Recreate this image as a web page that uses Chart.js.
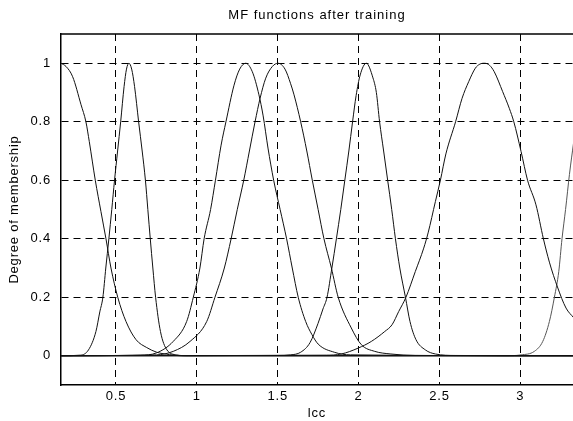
<!DOCTYPE html>
<html>
<head>
<meta charset="utf-8">
<script src="https://cdn.jsdelivr.net/npm/chart.js@4"></script>
<style>
  body { margin: 0; background: #fff; }
  canvas { display: block; }
</style>
</head>
<body>
<canvas id="mfChart" width="573" height="421"></canvas>
<script>
// MF curves (x = lcc, y = degree of membership)
var mf1X = [0.16, 0.191, 0.232, 0.284, 0.314, 0.335, 0.372, 0.407, 0.438, 0.469, 0.511, 0.562, 0.624, 0.69, 0.752, 0.83, 0.9, 3.33]
var mf1Y = [1.0, 0.989, 0.954, 0.858, 0.8, 0.732, 0.6, 0.493, 0.4, 0.3, 0.2, 0.117, 0.055, 0.028, 0.012, 0.004, 0, 0]

var mf2X = [0.16, 0.28, 0.33, 0.376, 0.4, 0.419, 0.437, 0.456, 0.474, 0.491, 0.51, 0.529, 0.55, 0.565, 0.58, 0.597, 0.615, 0.64, 0.662, 0.682, 0.697, 0.712, 0.728, 0.745, 0.775, 0.815, 0.875, 0.95, 3.33]
var mf2Y = [0, 0.002, 0.02, 0.083, 0.15, 0.2, 0.3, 0.4, 0.5, 0.6, 0.7, 0.8, 0.92, 0.98, 1.0, 0.98, 0.92, 0.8, 0.7, 0.6, 0.5, 0.4, 0.3, 0.2, 0.083, 0.02, 0.003, 0, 0]

var mf3X = [0.16, 0.65, 0.752, 0.854, 0.937, 0.978, 1.019, 1.045, 1.085, 1.115, 1.15, 1.18, 1.23, 1.265, 1.302, 1.343, 1.384, 1.41, 1.44, 1.475, 1.515, 1.555, 1.59, 1.627, 1.673, 1.712, 1.75, 1.85, 1.95, 3.33]
var mf3Y = [0, 0.002, 0.01, 0.049, 0.117, 0.2, 0.3, 0.4, 0.5, 0.6, 0.72, 0.8, 0.925, 0.98, 1.0, 0.971, 0.892, 0.82, 0.71, 0.6, 0.5, 0.4, 0.3, 0.2, 0.117, 0.072, 0.04, 0.012, 0.003, 0]

var mf4X = [0.16, 0.75, 0.854, 0.958, 1.061, 1.112, 1.17, 1.212, 1.25, 1.29, 1.325, 1.36, 1.391, 1.426, 1.467, 1.502, 1.545, 1.58, 1.601, 1.642, 1.68, 1.714, 1.75, 1.786, 1.832, 1.874, 1.955, 2.017, 2.1, 2.2, 2.35, 3.33]
var mf4Y = [0, 0.003, 0.015, 0.049, 0.117, 0.2, 0.3, 0.4, 0.5, 0.6, 0.7, 0.8, 0.88, 0.949, 0.989, 1.0, 0.98, 0.93, 0.892, 0.8, 0.7, 0.6, 0.5, 0.4, 0.3, 0.2, 0.095, 0.038, 0.015, 0.006, 0.001, 0]

var mf5X = [0.16, 1.5, 1.58, 1.642, 1.7, 1.749, 1.78, 1.805, 1.835, 1.863, 1.89, 1.915, 1.94, 1.963, 1.985, 2.01, 2.048, 2.089, 2.11, 2.13, 2.155, 2.18, 2.205, 2.228, 2.255, 2.29, 2.318, 2.355, 2.413, 2.475, 2.6, 3.33]
var mf5Y = [0, 0.001, 0.003, 0.012, 0.045, 0.11, 0.16, 0.2, 0.3, 0.4, 0.5, 0.6, 0.7, 0.8, 0.89, 0.96, 1.0, 0.95, 0.9, 0.8, 0.7, 0.6, 0.5, 0.4, 0.3, 0.2, 0.117, 0.055, 0.02, 0.006, 0.001, 0]

var mf6X = [0.16, 1.8, 1.893, 1.997, 2.079, 2.162, 2.207, 2.248, 2.293, 2.351, 2.403, 2.43, 2.475, 2.506, 2.54, 2.6, 2.64, 2.681, 2.722, 2.75, 2.78, 2.81, 2.839, 2.891, 2.932, 2.96, 3.005, 3.045, 3.097, 3.143, 3.18, 3.23, 3.283, 3.33]
var mf6Y = [0, 0.002, 0.006, 0.026, 0.049, 0.083, 0.106, 0.151, 0.2, 0.288, 0.368, 0.42, 0.527, 0.6, 0.69, 0.8, 0.88, 0.937, 0.983, 0.997, 1.0, 0.993, 0.971, 0.903, 0.846, 0.8, 0.698, 0.6, 0.516, 0.4, 0.32, 0.235, 0.163, 0.13]

var mf7X = [0.16, 2.9, 3.005, 3.087, 3.139, 3.18, 3.211, 3.238, 3.258, 3.28, 3.304, 3.33]
var mf7Y = [0, 0, 0.003, 0.015, 0.049, 0.117, 0.2, 0.288, 0.4, 0.5, 0.62, 0.73]

var xTicks = [0.5, 1, 1.5, 2, 2.5, 3]
var yTicks = [0, 0.2, 0.4, 0.6, 0.8, 1]

var fontName = "'Liberation Sans', Arial, sans-serif"

function puntos(xs, ys) {
  return xs.map(function (x, i) { return { x: x, y: ys[i] } })
}

function serie(xs, ys, color) {
  return {
    data: puntos(xs, ys),
    borderColor: color,
    borderWidth: 1,
    pointRadius: 0,
    fill: false,
    cubicInterpolationMode: "monotone",
  }
}

// top frame line + title centred on the axes
var marco = {
  id: "marco",
  beforeDraw: function (chart) {
    chart.ctx.letterSpacing = "0.8px"
  },
  afterDraw: function (chart) {
    var ctx = chart.ctx
    var a = chart.chartArea
    ctx.save()
    ctx.strokeStyle = "#000"
    ctx.lineWidth = 1.5
    ctx.beginPath()
    ctx.moveTo(a.left, a.top)
    ctx.lineTo(a.right, a.top)
    ctx.stroke()
    ctx.fillStyle = "#000"
    ctx.font = "13px " + fontName
    ctx.letterSpacing = "1px"
    ctx.textAlign = "center"
    ctx.textBaseline = "middle"
    ctx.fillText("MF functions after training", (a.left + a.right) / 2, 15)
    ctx.restore()
  },
}

var ctx = document.getElementById("mfChart").getContext("2d")
var chart = new Chart(ctx, {
  type: "line",
  data: {
    datasets: [
      serie(mf1X, mf1Y, "#111"),
      serie(mf2X, mf2Y, "#111"),
      serie(mf3X, mf3Y, "#111"),
      serie(mf4X, mf4Y, "#111"),
      serie(mf5X, mf5Y, "#111"),
      serie(mf6X, mf6Y, "#111"),
      serie(mf7X, mf7Y, "#555"),
    ],
  },
  options: {
    responsive: false,
    animation: false,
    layout: { padding: { top: 34, left: 0, right: 0, bottom: 0 } },
    plugins: {
      legend: { display: false },
      tooltip: { enabled: false },
      title: { display: false },
    },
    scales: {
      x: {
        type: "linear",
        min: 0.16,
        max: 3.326,
        afterBuildTicks: function (scale) {
          scale.ticks = xTicks.map(function (v) { return { value: v } })
        },
        afterFit: function (scale) {
          scale.height = 36
        },
        grid: { color: "#000", lineWidth: 1, drawTicks: false },
        border: { display: true, color: "#000", width: 1.5, dash: [7, 5] },
        ticks: {
          color: "#000",
          padding: 4,
          maxRotation: 0,
          font: { family: fontName, size: 13 },
          callback: function (v) { return String(v) },
        },
        title: {
          display: true,
          text: "lcc",
          color: "#000",
          padding: { top: 0, bottom: 0 },
          font: { family: fontName, size: 13 },
        },
      },
      y: {
        min: -0.1,
        max: 1.1,
        afterBuildTicks: function (scale) {
          scale.ticks = yTicks.map(function (v) { return { value: v } })
        },
        afterFit: function (scale) {
          scale.width = 61
        },
        grid: { color: "#000", lineWidth: 1, drawTicks: false },
        border: { display: true, color: "#000", width: 1.5, dash: [7, 5] },
        ticks: {
          color: "#000",
          padding: 10,
          font: { family: fontName, size: 13 },
          callback: function (v) { return String(v) },
        },
        title: {
          display: true,
          text: "Degree of membership",
          color: "#000",
          padding: { top: 7, bottom: 0 },
          font: { family: fontName, size: 13 },
        },
      },
    },
  },
  plugins: [marco],
})
</script>
</body>
</html>
